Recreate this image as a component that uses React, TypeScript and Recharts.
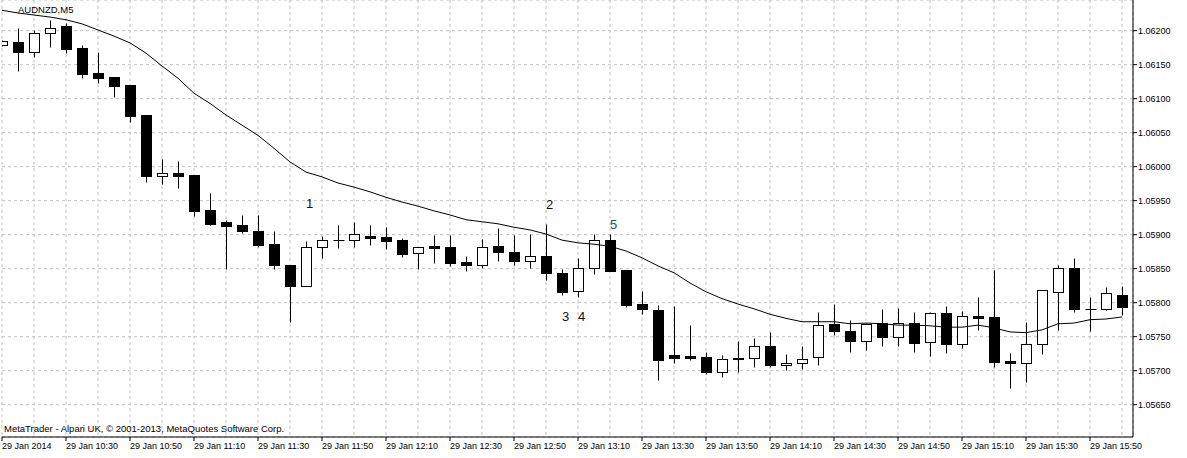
import React from "react";
import { ComposedChart, Bar, Line, Scatter, XAxis, YAxis, CartesianGrid } from "recharts";

// AUDNZD M5, 29 Jan 2014 10:10 .. 16:00
const open = [
  1.06179, 1.06184, 1.06169, 1.06196, 1.06207, 1.06174, 1.06138, 1.06132, 1.0612, 1.06076,
  1.05987, 1.05991, 1.05988, 1.05936, 1.05918, 1.05914, 1.05906, 1.05886, 1.05856, 1.05825,
  1.05882, 1.05892, 1.05892, 1.05898, 1.05896, 1.05892, 1.05873, 1.05883, 1.05882, 1.0586,
  1.05855, 1.05883, 1.05875, 1.05862, 1.05869, 1.05844, 1.05817, 1.05851, 1.05892, 1.05848,
  1.05798, 1.05789, 1.05723, 1.05721, 1.0572, 1.05698, 1.05719, 1.05718, 1.05736, 1.05708,
  1.05711, 1.0572, 1.05768, 1.05758, 1.05743, 1.0577, 1.05749, 1.0577, 1.05742, 1.05785,
  1.05739, 1.0578, 1.05779, 1.05714, 1.05712, 1.05739, 1.05816, 1.05851, 1.05791, 1.05791,
  1.05811,
];
const high = [
  1.06186, 1.06204, 1.06201, 1.06216, 1.06212, 1.06179, 1.06168, 1.06132, 1.0612, 1.06076,
  1.06011, 1.06008, 1.05988, 1.05961, 1.05922, 1.05929, 1.05929, 1.05906, 1.05856, 1.05891,
  1.05898, 1.05914, 1.05918, 1.05914, 1.05911, 1.05895, 1.05882, 1.059, 1.059, 1.05869,
  1.05893, 1.0591, 1.05899, 1.05901, 1.05915, 1.0585, 1.05865, 1.05901, 1.05901, 1.05848,
  1.05817, 1.05797, 1.05795, 1.05767, 1.05727, 1.05723, 1.05744, 1.05748, 1.05757, 1.05724,
  1.05736, 1.05786, 1.05798, 1.05774, 1.0577, 1.05791, 1.05792, 1.05786, 1.05786, 1.05795,
  1.05788, 1.05809, 1.05848, 1.05726, 1.05771, 1.05818, 1.05856, 1.05865, 1.05808, 1.05823,
  1.05825,
];
const low = [
  1.06178, 1.06141, 1.06162, 1.06176, 1.06167, 1.06131, 1.06123, 1.06102, 1.06065, 1.05978,
  1.05974, 1.05968, 1.05927, 1.05914, 1.0585, 1.05903, 1.05882, 1.0585, 1.05771, 1.05824,
  1.05866, 1.05881, 1.05882, 1.05885, 1.05879, 1.05867, 1.0585, 1.05858, 1.05854, 1.05846,
  1.05851, 1.05862, 1.05856, 1.05851, 1.05833, 1.05812, 1.05809, 1.05842, 1.05847, 1.05793,
  1.05783, 1.05686, 1.05712, 1.05715, 1.05695, 1.05691, 1.05698, 1.05706, 1.05706, 1.05701,
  1.05702, 1.05708, 1.05753, 1.05728, 1.05731, 1.05736, 1.05736, 1.05728, 1.05721, 1.05726,
  1.05733, 1.0576, 1.05706, 1.05674, 1.05684, 1.05724, 1.0576, 1.05787, 1.05758, 1.05789,
  1.05782,
];
const close = [
  1.06185, 1.06169, 1.06196, 1.06204, 1.06173, 1.06137, 1.06131, 1.06119, 1.06074, 1.05987,
  1.05991, 1.05987, 1.05935, 1.05916, 1.05913, 1.05905, 1.05885, 1.05855, 1.05825, 1.05882,
  1.05892, 1.05892, 1.05901, 1.05895, 1.05891, 1.05872, 1.05882, 1.05881, 1.05859, 1.05855,
  1.05882, 1.05874, 1.05862, 1.05869, 1.05843, 1.05816, 1.05851, 1.05892, 1.05847, 1.05797,
  1.05791, 1.05716, 1.05718, 1.05718, 1.05698, 1.05717, 1.05717, 1.05736, 1.05708, 1.05711,
  1.05717, 1.05767, 1.05758, 1.05743, 1.05769, 1.05749, 1.0577, 1.05741, 1.05785, 1.05739,
  1.0578, 1.05777, 1.05713, 1.05712, 1.05739, 1.05818, 1.05851, 1.05791, 1.05791, 1.05814,
  1.05794,
];
// moving average drawn over the candles
const ma = [
  1.0623, 1.06226, 1.06223, 1.0622, 1.06216, 1.0621, 1.06201, 1.06192, 1.06182, 1.06167,
  1.06148, 1.0613, 1.06108, 1.06093, 1.06076, 1.06061, 1.06046, 1.06027, 1.06007, 1.05992,
  1.05985, 1.05976, 1.0597, 1.05963, 1.05955, 1.05948, 1.05942, 1.05935, 1.05929, 1.05922,
  1.05919, 1.05916, 1.05911, 1.05907, 1.05901, 1.05892, 1.05888, 1.05886, 1.05883, 1.05876,
  1.05866, 1.05854, 1.05844, 1.05829, 1.05816, 1.05806, 1.05798, 1.05791, 1.05783, 1.05777,
  1.05772, 1.05772, 1.05772, 1.05769, 1.0577, 1.05769, 1.05767, 1.05767, 1.05766, 1.05764,
  1.05764, 1.05767, 1.05763, 1.05757, 1.05756, 1.0576, 1.05769, 1.0577, 1.05775, 1.05776,
  1.05779,
];

const tickIdx = [0, 4, 8, 12, 16, 20, 24, 28, 32, 36, 40, 44, 48, 52, 56, 60, 64, 68];
const tickLabels = [
  "29 Jan 2014", "29 Jan 10:30", "29 Jan 10:50", "29 Jan 11:10", "29 Jan 11:30", "29 Jan 11:50",
  "29 Jan 12:10", "29 Jan 12:30", "29 Jan 12:50", "29 Jan 13:10", "29 Jan 13:30", "29 Jan 13:50",
  "29 Jan 14:10", "29 Jan 14:30", "29 Jan 14:50", "29 Jan 15:10", "29 Jan 15:30", "29 Jan 15:50",
];
const gridIdx = [
  0, 2, 4, 6, 8, 10, 12, 14, 16, 18, 20, 22, 24, 26, 28, 30, 32, 34, 36, 38, 40, 42, 44, 46, 48,
  50, 52, 54, 56, 58, 60, 62, 64, 66, 68, 70,
];
const yTicks = [
  1.0565, 1.057, 1.0575, 1.058, 1.0585, 1.059, 1.0595, 1.06, 1.0605, 1.061, 1.0615, 1.062,
];
const marks = [
  { i: 19, p: 1.05939, t: "1", col: "#111" },
  { i: 34, p: 1.05938, t: "2", col: "#111" },
  { i: 35, p: 1.05773, t: "3", col: "#111" },
  { i: 36, p: 1.05773, t: "4", col: "#111" },
  { i: 38, p: 1.05908, t: "5", col: "#1f4f6f" },
];

const data = open.map((o, i) => ({
  i,
  o,
  h: high[i],
  l: low[i],
  c: close[i],
  range: [low[i], high[i]],
  ma: ma[i],
}));

const FONT = "'Liberation Sans', Arial, sans-serif";
const xDomain = [0, 70.6875];

const Candle = (props: any) => {
  const { x, y, width, height, payload } = props;
  const { o, h, l, c } = payload;
  const cx = Math.round(x + width / 2) + 0.5;
  const py = (p: number) => y + ((h - p) / (h - l)) * height;
  const top = Math.round(py(Math.max(o, c))) + 0.5;
  const bot = Math.round(py(Math.min(o, c))) + 0.5;
  const yh = Math.round(y) + 0.5;
  const yl = Math.round(y + height) + 0.5;
  return (
    <g>
      <line x1={cx} x2={cx} y1={yh} y2={yl} stroke="#000" />
      {bot - top < 1 ? (
        <line x1={cx - 5} x2={cx + 6} y1={top} y2={top} stroke="#000" />
      ) : (
        <rect x={cx - 5} y={top} width={10} height={bot - top} fill={c > o ? "#fff" : "#000"} stroke="#000" />
      )}
    </g>
  );
};

const TimeTick = (props: any) => {
  const { x, y, payload } = props;
  const k = tickIdx.indexOf(payload.value);
  return (
    <text x={x} y={y + 6} textAnchor="start" fill="#000" fontSize={9} fontFamily={FONT}>
      {k >= 0 ? tickLabels[k] : ""}
    </text>
  );
};

const MarkText = (props: any) => {
  const { cx, cy, payload } = props;
  return (
    <text x={cx} y={cy} fill={payload.col} fontSize={13} fontFamily={FONT}>
      {payload.t}
    </text>
  );
};

export default function App() {
  return (
    <div style={{ position: "absolute", left: 0, top: 0, width: 1187, height: 458, background: "#fff" }}>
      <ComposedChart width={1187} height={458} data={data} margin={{ top: 0, right: 0, bottom: 0, left: 2 }}>
        <CartesianGrid xAxisId="g" stroke="#c0c0c0" strokeDasharray="3 3" />
        <XAxis
          dataKey="i"
          type="number"
          domain={xDomain}
          allowDataOverflow
          ticks={tickIdx}
          interval={0}
          height={21}
          tickSize={4}
          tickMargin={2}
          tick={<TimeTick />}
          axisLine={{ stroke: "#000" }}
          tickLine={{ stroke: "#000" }}
        />
        <XAxis xAxisId="g" dataKey="i" type="number" domain={xDomain} allowDataOverflow ticks={gridIdx} interval={0} hide />
        <YAxis
          orientation="right"
          domain={[1.056025, 1.062451]}
          allowDataOverflow
          ticks={yTicks}
          interval={0}
          width={54}
          tickSize={4}
          tickMargin={1}
          tickFormatter={(v: number) => v.toFixed(5)}
          tick={{ fill: "#000", fontSize: 9, fontFamily: FONT }}
          axisLine={{ stroke: "#000" }}
          tickLine={{ stroke: "#000" }}
        />
        <YAxis yAxisId="L" orientation="left" width={0} tick={false} tickLine={false} axisLine={{ stroke: "#000" }} />
        <Bar dataKey="range" barSize={11} shape={<Candle />} isAnimationActive={false} />
        <Line dataKey="ma" type="linear" stroke="#000" strokeWidth={1} dot={false} isAnimationActive={false} />
        <Scatter data={marks} dataKey="p" shape={<MarkText />} isAnimationActive={false} />
      </ComposedChart>
      <svg width={1187} height={458} style={{ position: "absolute", left: 0, top: 0, pointerEvents: "none" }}>
        <text x={18} y={12.5} fontSize={9.5} fontFamily={FONT} fill="#000">AUDNZD,M5</text>
        <text x={4} y={431.5} fontSize={9.5} fontFamily={FONT} fill="#000">
          MetaTrader - Alpari UK, © 2001-2013, MetaQuotes Software Corp.
        </text>
      </svg>
    </div>
  );
}
